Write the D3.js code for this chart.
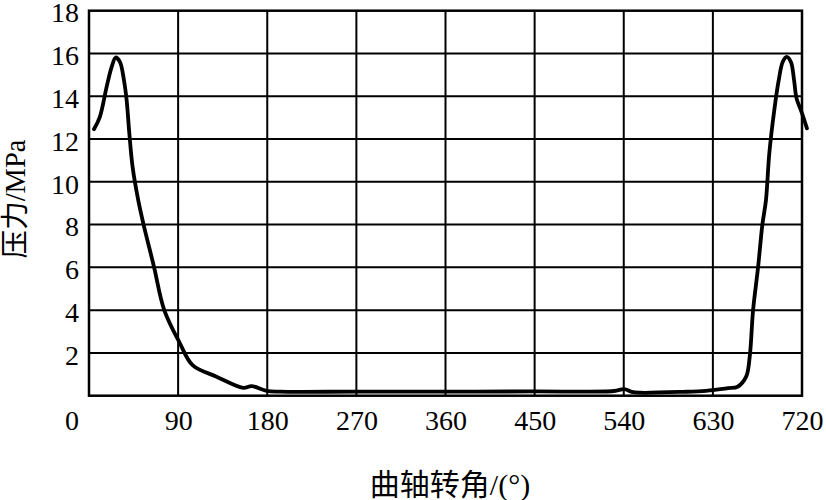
<!DOCTYPE html>
<html><head><meta charset="utf-8">
<script src="https://cdn.jsdelivr.net/npm/d3@7"></script>
<style>
html,body{margin:0;padding:0;background:#fff;}
svg{display:block;}
</style>
</head><body>
<svg id="chart" width="826" height="500"></svg>
<script>
// ---- data ----
const crankAngle = [5, 11, 17.8, 22.9, 26.9, 31.3, 35.3, 38, 40.7, 44, 49.7, 54.8, 65.6, 76, 91.8, 104.6, 128.8, 155.7, 164.2, 179.3, 192.7, 270, 360, 450, 530, 540.4, 548, 556, 600, 623, 645, 655, 663.6, 667.2, 670.6, 675.7, 680, 683.6, 687, 692, 696.5, 700.5, 704.5, 708.8, 712, 714.5, 719.5, 725];
const pressure   = [12.46, 13.04, 14.44, 15.37, 15.81, 15.6, 14.75, 13.82, 12.28, 10.7, 9.14, 8.06, 6.03, 4.0, 2.45, 1.43, 0.89, 0.37, 0.45, 0.23, 0.19, 0.19, 0.19, 0.2, 0.22, 0.31, 0.18, 0.14, 0.18, 0.23, 0.35, 0.42, 0.89, 1.82, 4.0, 6.03, 8.0, 9.14, 11.34, 13.35, 14.75, 15.6, 15.84, 15.6, 14.75, 13.9, 13.27, 12.5];
const xTicks = [90, 180, 270, 360, 450, 540, 630, 720];
const yTicks = [2, 4, 6, 8, 10, 12, 14, 16, 18];
const xTitle = "曲轴转角/(°)";
const yTitle = "压力/MPa";

// ---- layout ----
const svg = d3.select("#chart");
const L = 89, R = 802, T = 10.7, B = 395.7;
const x = d3.scaleLinear().domain([0, 720]).range([L, R]);
const y = d3.scaleLinear().domain([0, 18]).range([B, T]);
const numFont = "'Liberation Serif','Times New Roman',serif";
const cjkFont = "'Liberation Serif','Noto Sans CJK SC',serif";

// grid
const grid = svg.append("g").attr("stroke", "#000").attr("stroke-width", 2);
grid.selectAll("line.v").data(xTicks.filter(d => d < 720)).join("line")
  .attr("x1", d => x(d)).attr("x2", d => x(d)).attr("y1", T).attr("y2", B);
grid.selectAll("line.h").data(yTicks.filter(d => d < 18)).join("line")
  .attr("y1", d => y(d)).attr("y2", d => y(d)).attr("x1", L).attr("x2", R);
// frame
svg.append("rect").attr("x", L).attr("y", T).attr("width", R - L).attr("height", B - T)
  .attr("fill", "none").attr("stroke", "#000").attr("stroke-width", 2.5);

// axes via d3 axis (labels only)
const xAxis = svg.append("g").attr("transform", `translate(0,${B})`)
  .call(d3.axisBottom(x).tickValues(xTicks).tickSize(0).tickPadding(0));
xAxis.select(".domain").remove();
xAxis.selectAll("text").attr("font-family", numFont).attr("font-size", 28)
  .attr("fill", "#000").attr("dy", null).attr("y", 34);

const yAxis = svg.append("g").attr("transform", `translate(${L},0)`)
  .call(d3.axisLeft(y).tickValues(yTicks).tickSize(0).tickPadding(0));
yAxis.select(".domain").remove();
yAxis.selectAll("text").attr("font-family", numFont).attr("font-size", 28)
  .attr("fill", "#000").attr("x", -10).attr("dy", "0.40em");

// corner zero
svg.append("text").attr("x", 79).attr("y", B + 34).attr("text-anchor", "end")
  .attr("font-family", numFont).attr("font-size", 28).text("0");

// titles
svg.append("text").attr("x", 450).attr("y", 495).attr("text-anchor", "middle")
  .attr("font-family", cjkFont).attr("font-size", 30).text(xTitle);
svg.append("text").attr("transform", "translate(25,199) rotate(-90)")
  .attr("text-anchor", "middle").attr("font-family", cjkFont).attr("font-size", 28.5).text(yTitle);

// curve
const pts = crankAngle.map((a, i) => [a, pressure[i]]);
const line = d3.line().x(d => x(d[0])).y(d => y(d[1])).curve(d3.curveCatmullRom.alpha(0.5));
svg.append("path").datum(pts).attr("d", line).attr("fill", "none")
  .attr("stroke", "#000").attr("stroke-width", 3.8).attr("stroke-linejoin", "round").attr("stroke-linecap", "round");
</script>
</body></html>
